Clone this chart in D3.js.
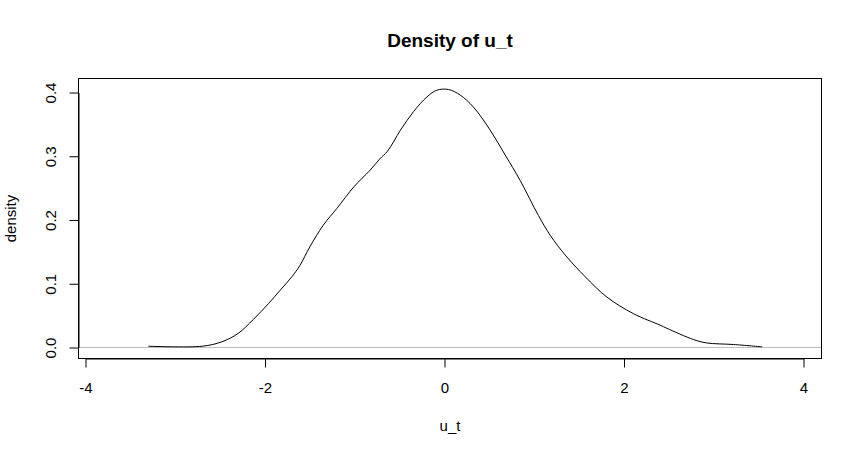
<!DOCTYPE html>
<html>
<head>
<meta charset="utf-8">
<script src="https://cdn.jsdelivr.net/npm/d3@7"></script>
<style>
  body { margin: 0; background: #fff; }
  svg text { font-family: "Liberation Sans", Arial, sans-serif; fill: #000; }
</style>
</head>
<body>
<div id="chart"></div>
<script>
// density estimate of u_t
var uVals = [-3.30, -2.70, -2.48, -2.30, -2.13, -1.96, -1.83, -1.70, -1.61, -1.50,
             -1.35, -1.20, -1.01, -0.83, -0.72, -0.635, -0.49, -0.345, -0.196, -0.085,
             0.045, 0.175, 0.323, 0.509, 0.676, 0.843, 1.047, 1.178, 1.345, 1.568,
             1.81, 2.106, 2.403, 2.48, 2.774, 2.92, 3.22, 3.54];
var densVals = [0.002, 0.002, 0.009, 0.022, 0.044, 0.069, 0.090, 0.111, 0.129, 0.158,
                0.192, 0.218, 0.252, 0.278, 0.296, 0.308, 0.341, 0.370, 0.393, 0.4036,
                0.4047, 0.396, 0.377, 0.341, 0.302, 0.262, 0.207, 0.176, 0.145, 0.111,
                0.079, 0.053, 0.035, 0.030, 0.0125, 0.0072, 0.0047, 0.001];
var xTicks = [-4, -2, 0, 2, 4];
var yTicks = [0, 0.1, 0.2, 0.3, 0.4];

var width = 862,
    height = 456,
    box = { left: 78.5, top: 78.5, right: 821.5, bottom: 358.5 };

var xScale = d3.scaleLinear().domain([-4, 4]).range([85.5, 803.5]);
var yScale = d3.scaleLinear().domain([0, 0.4]).range([347.5, 92.5]);

var svg = d3.select('#chart').append('svg')
    .attr('width', width)
    .attr('height', height);

// grey reference line at zero
svg.append('line')
    .attr('x1', box.left).attr('x2', box.right)
    .attr('y1', yScale(0)).attr('y2', yScale(0))
    .attr('stroke', '#bebebe')
    .attr('stroke-width', 1);

var points = uVals.map(function(u, i) { return [u, densVals[i]]; });

var line = d3.line()
    .x(function(d) { return xScale(d[0]); })
    .y(function(d) { return yScale(d[1]); })
    .curve(d3.curveCatmullRom.alpha(0.5));

svg.append('path')
    .datum(points)
    .attr('d', line)
    .attr('fill', 'none')
    .attr('stroke', '#000')
    .attr('stroke-width', 1);

// plot frame
svg.append('rect')
    .attr('x', box.left).attr('y', box.top)
    .attr('width', box.right - box.left)
    .attr('height', box.bottom - box.top)
    .attr('fill', 'none')
    .attr('stroke', '#000')
    .attr('stroke-width', 1);

var xAxis = d3.axisBottom(xScale)
    .tickValues(xTicks)
    .tickSize(9)
    .tickSizeOuter(0)
    .tickPadding(15)
    .tickFormat(d3.format('d'));

var xGuide = svg.append('g')
    .attr('transform', 'translate(0,' + box.bottom + ')')
    .call(xAxis);
xGuide.selectAll('text')
    .style('font-family', '"Liberation Sans", Arial, sans-serif')
    .style('font-size', '15px')
    .text(function(d) { return d < 0 ? '-' + Math.abs(d) : d; });

var yAxis = d3.axisLeft(yScale)
    .tickValues(yTicks)
    .tickSize(9)
    .tickSizeOuter(0)
    .tickFormat(d3.format('.1f'));

var yGuide = svg.append('g')
    .attr('transform', 'translate(' + box.left + ',0)')
    .call(yAxis);
yGuide.selectAll('text')
    .attr('transform', 'rotate(-90)')
    .attr('x', 0)
    .attr('y', -22.5)
    .attr('dy', 0)
    .attr('text-anchor', 'middle')
    .style('font-family', '"Liberation Sans", Arial, sans-serif')
    .style('font-size', '15px');

svg.selectAll('.domain, .tick line').attr('stroke', '#000');

// titles
svg.append('text')
    .attr('x', (box.left + box.right) / 2)
    .attr('y', 47)
    .attr('text-anchor', 'middle')
    .style('font-size', '19px')
    .style('font-weight', 'bold')
    .text('Density of u_t');

svg.append('text')
    .attr('x', (box.left + box.right) / 2)
    .attr('y', 431)
    .attr('text-anchor', 'middle')
    .style('font-size', '15px')
    .text('u_t');

svg.append('text')
    .attr('transform', 'translate(15.5,' + (box.top + box.bottom) / 2 + ') rotate(-90)')
    .attr('text-anchor', 'middle')
    .style('font-size', '15px')
    .text('density');
</script>
</body>
</html>
